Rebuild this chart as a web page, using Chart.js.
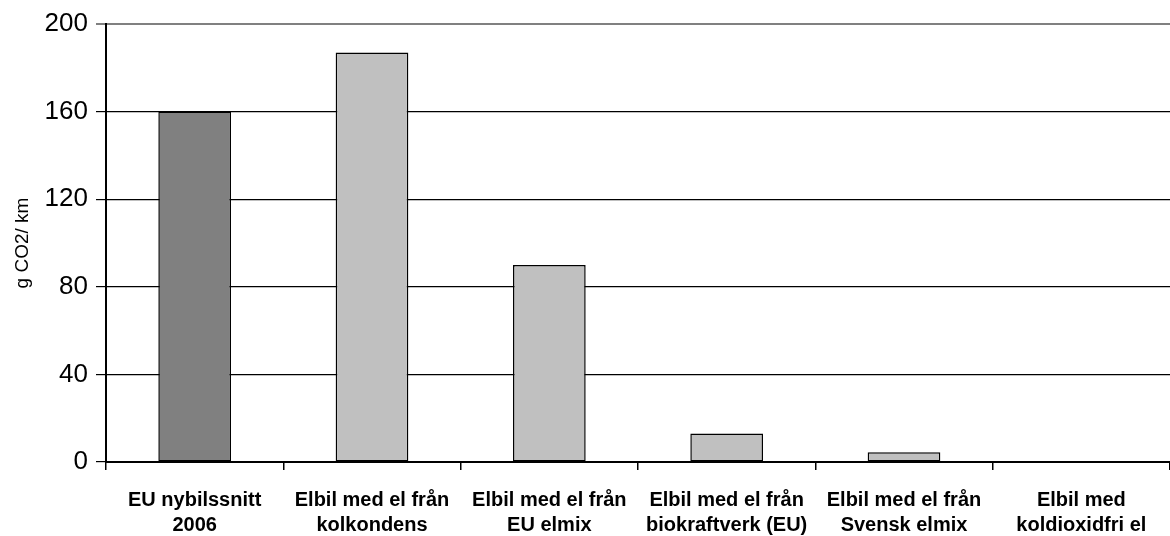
<!DOCTYPE html>
<html>
<head>
<meta charset="utf-8">
<script src="https://cdn.jsdelivr.net/npm/chart.js@4"></script>
<style>
  html, body { margin: 0; padding: 0; background: #fff; }
  #wrap { width: 1170px; height: 536px; }
</style>
</head>
<body>
<div id="wrap"><canvas id="chart" width="1170" height="536"></canvas></div>
<script>
// Category labels (two lines each) and values in g CO2/km
const categories = [
    ['EU nybilssnitt', '2006'],
    ['Elbil med el från', 'kolkondens'],
    ['Elbil med el från', 'EU elmix'],
    ['Elbil med el från', 'biokraftverk (EU)'],
    ['Elbil med el från', 'Svensk elmix'],
    ['Elbil med', 'koldioxidfri el']
];
const emissions = [160, 187, 90, 13, 4.5, 0];
const yTicks = [0, 40, 80, 120, 160, 200];

const barColors = emissions.map((v, i) => i === 0 ? '#808080' : '#c0c0c0');

new Chart(document.getElementById('chart'), {
    type: 'bar',
    data: {
        labels: categories,
        datasets: [{
            label: 'g CO2/ km',
            data: emissions,
            backgroundColor: barColors,
            borderColor: '#000',
            borderWidth: 1.5,
            borderSkipped: false,
            barPercentage: 0.41,
            categoryPercentage: 1
        }]
    },
    options: {
        responsive: false,
        animation: false,
        layout: { padding: { top: 24, left: 0, right: 0, bottom: 0 } },
        plugins: {
            legend: { display: false },
            tooltip: { enabled: false }
        },
        scales: {
            x: {
                afterFit: s => { s.height = 74; },
                grid: {
                    offset: true,
                    drawOnChartArea: false,
                    drawTicks: true,
                    tickLength: 8,
                    color: '#000',
                    lineWidth: 1.5
                },
                border: { color: '#000', width: 2 },
                ticks: {
                    color: '#000',
                    padding: 18,
                    maxRotation: 0,
                    autoSkip: false,
                    font: { family: '"Liberation Sans Narrow", "Arial Narrow", Arial, sans-serif', size: 20, weight: 'bold', lineHeight: 1.25 }
                }
            },
            y: {
                min: 0,
                max: 200,
                afterFit: s => { s.width = 106; },
                afterBuildTicks: s => { s.ticks = yTicks.map(v => ({ value: v })); },
                grid: {
                    color: c => (c.tick && c.tick.value === 200) ? '#808080' : '#000',
                    lineWidth: c => (c.tick && c.tick.value === 200) ? 2 : 1.2,
                    drawTicks: true,
                    tickLength: 10
                },
                border: { color: '#000', width: 2 },
                ticks: {
                    color: '#000',
                    padding: 8,
                    font: { family: '"Liberation Sans", Arial, sans-serif', size: 26 }
                },
                title: {
                    display: true,
                    text: 'g CO2/ km',
                    color: '#000',
                    padding: { top: 11, bottom: 0 },
                    font: { family: '"Liberation Sans", Arial, sans-serif', size: 19 }
                }
            }
        }
    }
});
</script>
</body>
</html>
